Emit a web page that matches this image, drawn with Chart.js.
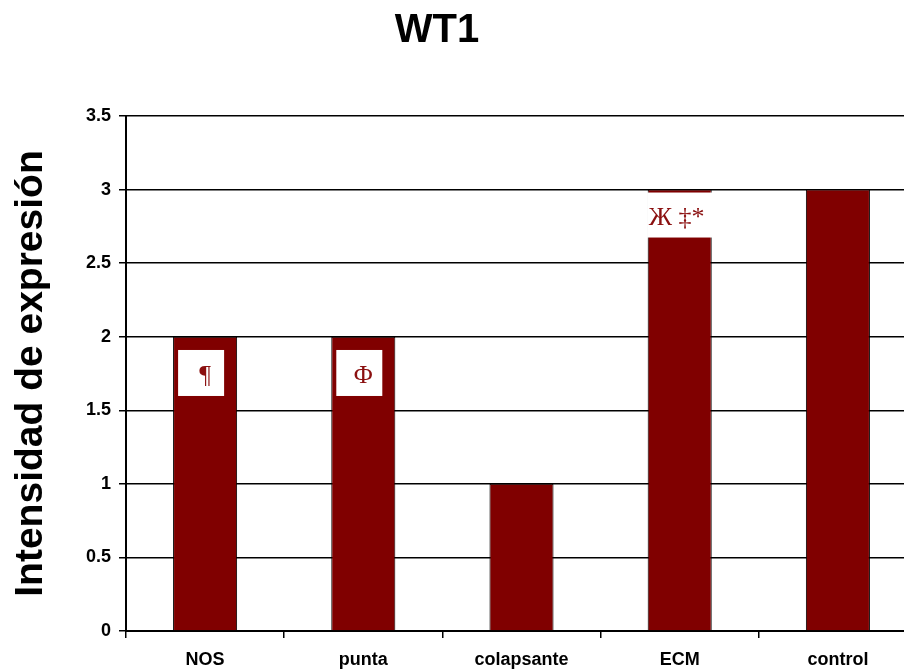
<!DOCTYPE html>
<html>
<head>
<meta charset="utf-8">
<script src="https://cdn.jsdelivr.net/npm/chart.js@4/dist/chart.umd.min.js"></script>
<style>
  html,body{margin:0;padding:0;background:#fff;overflow:hidden}
  #wrap{width:920px;height:672px}
</style>
</head>
<body>
<div id="wrap"><canvas id="c" width="920" height="672"></canvas></div>
<script>
const chartTitle = 'WT1'
const yTitle = 'Intensidad de expresión'
const categories = ['NOS','punta','colapsante','ECM','control']
const values = [2, 2, 1, 3, 3]
// note marks drawn in white boxes on top of some bars
const noteCats = ['NOS','punta','ECM']
const noteTexts = ['¶','Φ','Ж ‡*']
const noteValues = [1.74, 1.74, 2.81]

const barColor = '#800000'
const font = 'Liberation Sans, Arial, sans-serif'

const notesPlugin = {
  id:'notes',
  afterDatasetsDraw(chart){
    const ctx = chart.ctx, y = chart.scales.y
    const meta = chart.getDatasetMeta(0)
    ctx.save()
    noteCats.forEach((cat,i)=>{
      const bar = meta.data[categories.indexOf(cat)]
      const cy = y.getPixelForValue(noteValues[i])
      const wide = noteTexts[i].length > 1
      const bw = wide ? bar.width + 1 : 46
      const bx = wide ? bar.x - bw/2 : bar.x - 4 - bw/2
      ctx.fillStyle = '#fff'
      ctx.fillRect(bx, cy - 25, bw, wide ? 45 : 46)
      ctx.fillStyle = '#8b1010'
      ctx.font = '26px "Liberation Serif", serif'
      ctx.textAlign = 'center'
      ctx.textBaseline = 'middle'
      ctx.fillText(noteTexts[i], wide ? bar.x - 3 : bar.x, cy + 1)
    })
    ctx.restore()
  }
}

const titlePlugin = {
  id:'ttl',
  afterDraw(chart){
    const ctx = chart.ctx
    ctx.save()
    ctx.fillStyle = '#000'
    ctx.font = 'bold 40px ' + font
    ctx.textAlign = 'center'
    ctx.textBaseline = 'middle'
    ctx.fillText(chartTitle, 437, 31)
    ctx.restore()
  }
}

new Chart(document.getElementById('c'), {
  type:'bar',
  data:{ labels: categories, datasets:[{ data: values, backgroundColor: barColor, borderColor:'#000', borderWidth:1, barPercentage:0.405, categoryPercentage:1 }] },
  options:{
    responsive:false, animation:false,
    layout:{ padding:{ top:116, left:0, right:3, bottom:0 } },
    plugins:{ legend:{ display:false }, tooltip:{ enabled:false } },
    scales:{
      x:{
        afterFit: s => { s.height = 41 },
        grid:{ offset:true, drawOnChartArea:false, color:'#000', tickLength:7, lineWidth:1.5 },
        border:{ display:true, color:'#000', width:2 },
        ticks:{ color:'#000', font:{ family:font, size:18, weight:'bold' }, padding:11 }
      },
      y:{
        min:0, max:3.5,
        afterFit: s => { s.width = 126 },
        grid:{ color:'#000', tickLength:7, lineWidth:1.5 },
        border:{ display:true, color:'#000', width:2 },
        ticks:{ stepSize:0.5, color:'#000', font:{ family:font, size:18, weight:'bold' }, padding:8, callback: v => String(v) },
        title:{ display:true, text:yTitle, color:'#000', font:{ family:font, size:39, weight:'bold' }, padding:{ top:8, bottom:0 } }
      }
    }
  },
  plugins:[notesPlugin, titlePlugin]
})
</script>
</body>
</html>
